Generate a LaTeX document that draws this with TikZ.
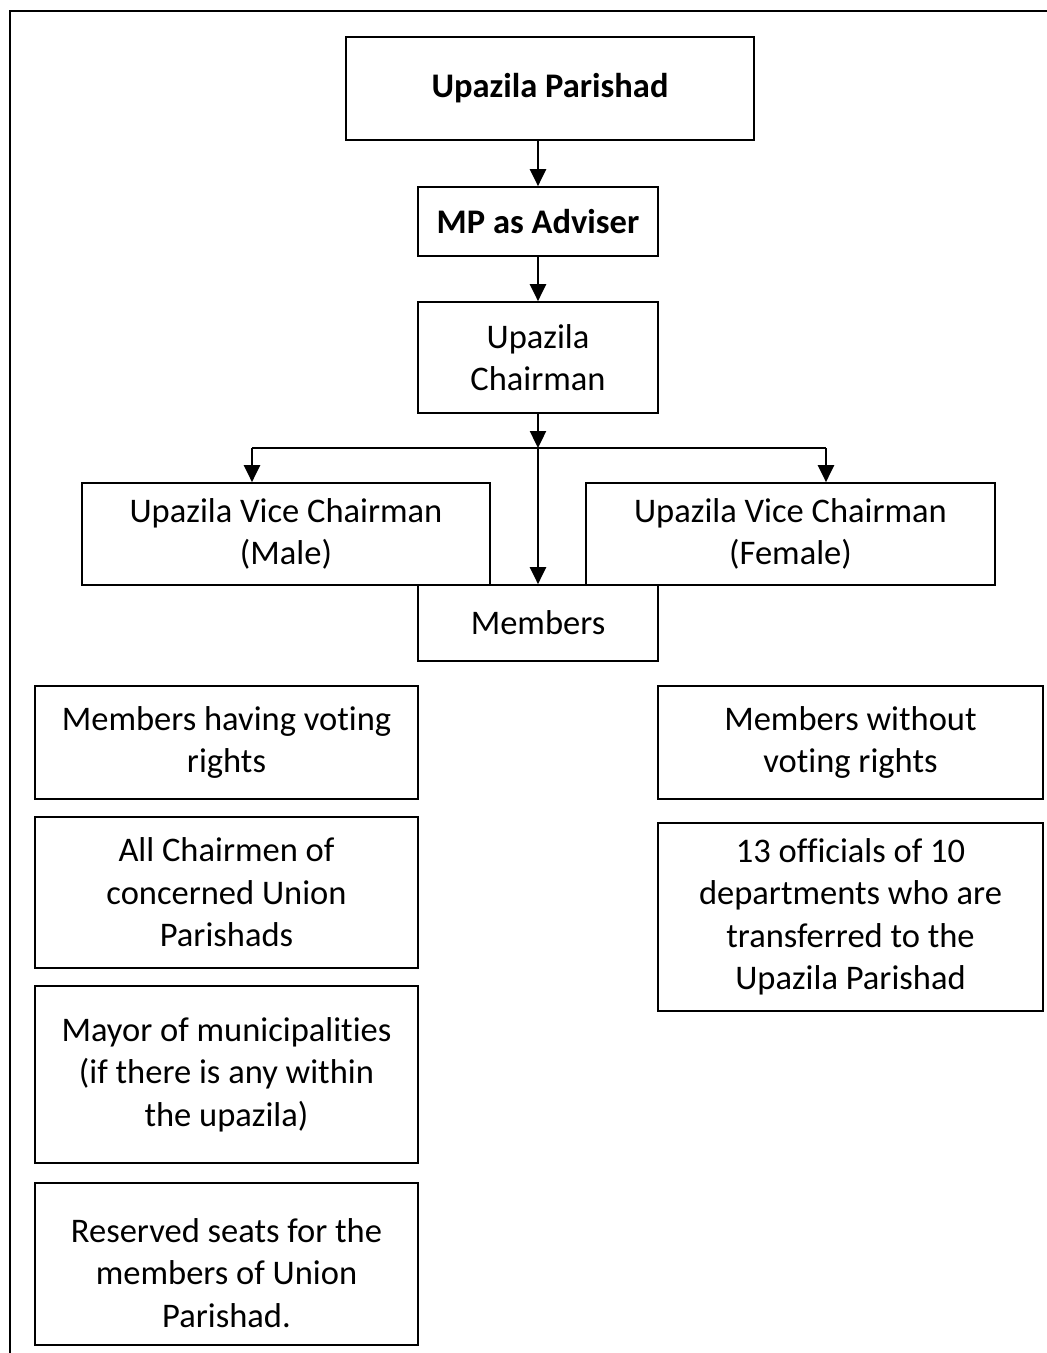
\documentclass[tikz,border=0pt]{standalone}
\usepackage{fontspec}
\setmainfont[Ligatures={NoCommon}]{Carlito}
\usetikzlibrary{arrows.meta}
\begin{document}
\begin{tikzpicture}[x=1pt,y=-1pt,
  box/.style={draw=black,line width=1.7pt,inner sep=0pt,align=center,
    font=\fontsize{34.5}{42.5}\selectfont},
  conn/.style={line width=2.4pt},
  arr/.style={conn,-{Triangle[width=16pt,length=17pt]}},
  frame/.style={line width=2.8pt}]
\useasboundingbox (0,0) rectangle (1047,1353);

% outer frame (top and left edges)
\coordinate (fbl) at (10,1353);
\coordinate (fc) at (10,11);
\coordinate (ftr) at (1047,11);
\draw[frame] (fbl) -- (fc) -- (ftr);

% hierarchy boxes
\node[box,minimum width=408pt,minimum height=103pt] (parishad) at (550,88.5)
  {\bfseries Upazila Parishad};
\node[box,minimum width=240pt,minimum height=69pt] (adviser) at (538,221.5)
  {\bfseries MP as Adviser};
\node[box,minimum width=240pt,minimum height=111pt] (chairman) at (538,357.5)
  {Upazila\\Chairman};
\node[box,minimum width=408pt,minimum height=102pt] (vicem) at (286,534)
  {Upazila Vice Chairman\\(Male)};
\node[box,minimum width=409pt,minimum height=102pt] (vicef) at (790.5,534)
  {Upazila Vice Chairman\\(Female)};
\node[box,minimum width=240pt,minimum height=76pt] (members) at (538,623)
  {Members};

% members with voting rights
\node[box,minimum width=383pt,minimum height=113pt] (voting) at (226.5,742.5)
  {Members having voting\\rights};
\node[box,minimum width=383pt,minimum height=151pt] (chairmen) at (226.5,892.5)
  {All Chairmen of\\concerned Union\\Parishads};
\node[box,minimum width=383pt,minimum height=177pt] (mayor) at (226.5,1074.5)
  {Mayor of municipalities\\(if there is any within\\the upazila)};
\node[box,minimum width=383pt,minimum height=162pt] (reserved) at (226.5,1264)
  {};
\node[box,draw=none] (reservedtext) at (226.5,1273)
  {Reserved seats for the\\members of Union\\Parishad.};

% members without voting rights
\node[box,minimum width=385pt,minimum height=113pt] (nonvoting) at (850.5,742.5)
  {Members without\\voting rights};
\node[box,minimum width=385pt,minimum height=188pt] (officials) at (850.5,917)
  {13 officials of 10\\departments who are\\transferred to the\\Upazila Parishad};

% connectors
\coordinate (split) at (538,448);
\coordinate (lb) at (252,448);
\coordinate (rb) at (826,448);
\draw[arr] (parishad.south -| adviser.north) -- (adviser.north);
\draw[arr] (adviser.south) -- (chairman.north);
\draw[arr] (chairman.south) -- (split);
\draw[conn] (lb) -- (rb);
\draw[arr] (split) -- (members.north);
\draw[arr] (lb) -- (lb |- vicem.north);
\draw[arr] (rb) -- (rb |- vicef.north);
\end{tikzpicture}
\end{document}
